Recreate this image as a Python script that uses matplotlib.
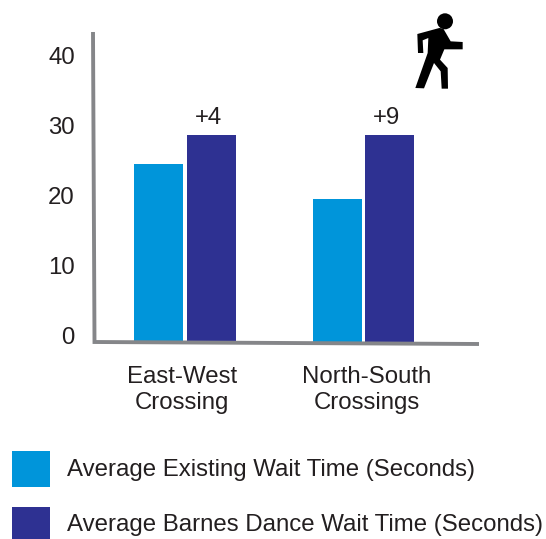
import matplotlib
matplotlib.use("Agg")
import matplotlib.pyplot as plt
from matplotlib.patches import Circle, Polygon, Rectangle
from matplotlib.transforms import ScaledTranslation

plt.rcParams["font.family"] = ["Liberation Sans", "DejaVu Sans"]

categories = ["East-West\nCrossing", "North-South\nCrossings"]
existing_wait = [25, 20]
barnes_dance_wait = [29, 29]
changes = ["+4", "+9"]
y_ticks = [0, 10, 20, 30, 40]
legend_labels = ["Average Existing Wait Time (Seconds)",
                 "Average Barnes Dance Wait Time (Seconds)"]

LIGHT = "#0095da"
DARK = "#2e3192"
AXIS = "#858689"
TXT = "#231f20"
W, H = 546, 539
FS = 17.3

fig = plt.figure(figsize=(W / 100, H / 100), dpi=100, facecolor="white")

# plot area, laid out in pixels
left, right, top, base = 93, 478, 32, 342
ax = fig.add_axes([left / W, 1 - base / H, (right - left) / W, (base - top) / H])
group_step = 178.5
ax.set_xlim((left - 185) / group_step, (right - 185) / group_step)
ax.set_ylim(0, (base - top) / 7.13)
ax.patch.set_visible(False)
for s in ax.spines.values():
    s.set_visible(False)

bar_w = 49 / group_step
shift = 26 / group_step
xs = list(range(len(categories)))
ax.bar([x - shift - 0.5 / group_step for x in xs], existing_wait, bar_w, color=LIGHT, zorder=3)
bars = ax.bar([x + shift for x in xs], barnes_dance_wait, bar_w, color=DARK, zorder=3)

for b, txt in zip(bars, changes):
    ax.annotate(txt, (b.get_x() + b.get_width() / 2, b.get_height()),
                xytext=(-2, 12.6), textcoords="offset points", ha="center",
                va="center", fontsize=FS, color=TXT)

ax.set_yticks(y_ticks)
ax.set_xticks(xs)
ax.set_xticklabels(categories, linespacing=1.25)
ax.tick_params(axis="y", length=0, pad=13, labelsize=FS, labelcolor=TXT)
ax.tick_params(axis="x", length=0, pad=17, labelsize=FS, labelcolor=TXT)

# the value labels sit a few pixels above their nominal positions
for lab, dy in zip(ax.get_yticklabels(), [6, 4.7, 3.4, 3, 1.8]):
    lab.set_transform(lab.get_transform() + ScaledTranslation(0, dy / 100, fig.dpi_scale_trans))
for lab, dx in zip(ax.get_xticklabels(), [-3, 3]):
    lab.set_transform(lab.get_transform() + ScaledTranslation(dx / 100, 0, fig.dpi_scale_trans))

# overlay in pixel coordinates for the hand-drawn axes, legend and walker
over = fig.add_axes([0, 0, 1, 1], zorder=5)
over.set_xlim(0, W)
over.set_ylim(H, 0)
over.axis("off")

over.plot([93, 94.5, 479], [32, 342, 344], color=AXIS, lw=2.8,
          solid_joinstyle="miter", solid_capstyle="butt", zorder=2)

swatches = [(12, 451, 38, 36), (12, 507, 38, 32)]
for (x, y, w, h), c, txt, ty in zip(swatches, [LIGHT, DARK], legend_labels, [470, 525]):
    over.add_patch(Rectangle((x, y), w, h, fc=c, ec="none"))
    over.text(67, ty, txt, fontsize=FS, color=TXT, va="center", ha="left")

# pedestrian icon
walker = [(22, 78), (88, 60), (100, 62), (122, 100), (158, 102), (158, 124),
          (103, 124), (90, 155), (113, 180), (114, 242), (95, 242), (92, 190),
          (72, 165), (42, 241), (16, 240), (53, 135), (55, 90), (38, 97),
          (40, 135), (24, 135)]
over.add_patch(Polygon([(410 + x / 3, 8 + y / 3) for x, y in walker], fc="black", ec="none"))
over.add_patch(Circle((445, 21.3), 8, fc="black", ec="none"))

fig.savefig("out.png", dpi=100, facecolor="white")
